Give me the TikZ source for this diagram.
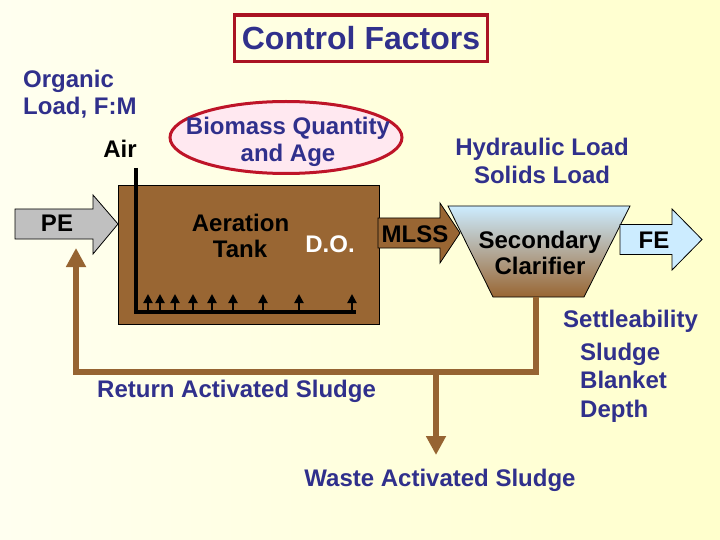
\documentclass[tikz,border=0pt]{standalone}
\usepackage{fontspec}
\setmainfont{Liberation Sans}
\usetikzlibrary{arrows.meta,shapes.geometric}
\definecolor{navy}{RGB}{48,48,140}
\definecolor{brownfill}{RGB}{153,102,51}
\definecolor{pipebrown}{RGB}{150,100,50}
\definecolor{darkred}{RGB}{170,20,35}
\definecolor{ellred}{RGB}{190,20,40}
\definecolor{pinkfill}{RGB}{255,232,240}
\definecolor{ltblue}{RGB}{204,236,255}
\definecolor{midblue}{RGB}{196,212,224}
\definecolor{pegray}{RGB}{192,192,192}
\definecolor{bgl}{RGB}{255,255,240}
\definecolor{bgr}{RGB}{255,255,204}
\begin{document}
\begin{tikzpicture}[x=1pt,y=-1pt,
  lbl/.style={font=\fontsize{24}{28}\selectfont\bfseries, inner sep=0pt, text=navy},
  blk/.style={font=\fontsize{24}{28}\selectfont\bfseries, inner sep=0pt, text=black},
  pipe/.style={draw=pipebrown, line width=5.5pt, line join=miter},
  bigtip/.style={-{Triangle[width=19pt,length=19pt]}},
  airline/.style={draw=black, line width=4.5pt, line join=miter},
  bubble/.style={draw=black, line width=2pt, -{Triangle[width=9pt,length=9pt]}},
  shapeedge/.style={draw=black, line width=0.8pt, line join=miter},
]
\useasboundingbox (0,0) rectangle (720,540);
\shade[left color=bgl, right color=bgr] (0,0) rectangle (720,540);

% title box
\node[draw=darkred, line width=3.5pt, minimum width=253pt, minimum height=46.7pt,
      inner sep=0pt, font=\fontsize{32}{36}\selectfont\bfseries, text=navy]
      (cf) at (361,38.3) {Control Factors};

% ellipse
\node[ellipse, draw=ellred, line width=3pt, fill=pinkfill, minimum width=232pt,
      minimum height=72pt, inner sep=0pt] (bio) at (286,137.5) {};

% aeration tank
\node[shapeedge, fill=brownfill, minimum width=261pt, minimum height=139pt,
      inner sep=0pt] (tank) at (248.5,254.5) {};

% air pipe and diffusers
\coordinate (airtop) at (136,168);
\coordinate (airend) at (356,312);
\draw[airline] (airtop) |- (airend);
\foreach \x in {148,160,175,193,212,233,263,299,352}
  \draw[bubble] (\x,310) -- (\x,294);

% PE arrow
\filldraw[shapeedge, fill=pegray] (15,209) -- (93,209) -- (93,195) -- (118,224)
  -- (93,254) -- (93,239) -- (15,239) -- cycle;
% MLSS arrow
\filldraw[shapeedge, fill=brownfill] (378,218) -- (440,218) -- (440,203) -- (460,233)
  -- (440,263) -- (440,248) -- (378,248) -- cycle;
% clarifier
\shade[top color=ltblue, middle color=midblue, bottom color=brownfill]
  (448,206) -- (630,206) -- (584,297) -- (493,297) -- cycle;
\draw[shapeedge] (448,206) -- (630,206) -- (584,297) -- (493,297) -- cycle;
% FE arrow
\filldraw[shapeedge, fill=ltblue] (620,224.5) -- (672,224.5) -- (672,209) -- (702,239.5)
  -- (672,270) -- (672,254.5) -- (620,254.5) -- cycle;

% sludge lines
\coordinate (clarbot) at (536,297);
\coordinate (rcorner) at (76,372);
\coordinate (retend) at (76,248);
\coordinate (wjunc) at (436,372);
\coordinate (wend) at (436,455);
\draw[pipe, bigtip] (clarbot) |- (rcorner) -- (retend);
\draw[pipe, bigtip] (wjunc) -- (wend);

% texts
\node[lbl, anchor=base west] (olf1) at (23,88) {Organic};
\node[lbl, anchor=base west] (olf2) at (23,115) {Load, F:M};
\node[blk, anchor=base] (air) at (120,158) {Air};
\node[lbl, anchor=base] (bio1) at (288,135) {Biomass Quantity};
\node[lbl, anchor=base] (bio2) at (288,162) {and Age};
\node[lbl, anchor=base] (hyd1) at (542,156) {Hydraulic Load};
\node[lbl, anchor=base] (hyd2) at (542,184) {Solids Load};
\node[blk, anchor=base] (aer1) at (240.5,232) {Aeration};
\node[blk, anchor=base] (aer2) at (240,258) {Tank};
\node[blk, anchor=base, text=white] (do) at (330,252) {D.O.};
\node[blk, anchor=base] (pe) at (57,232) {PE};
\node[blk, anchor=base] (mlss) at (415,242) {MLSS};
\node[blk, anchor=base] (sec1) at (540,248) {Secondary};
\node[blk, anchor=base] (sec2) at (540,274) {Clarifier};
\node[blk, anchor=base] (fe) at (654,248) {FE};
\node[lbl, anchor=base west] (set1) at (563,327) {Settleability};
\node[lbl, anchor=base west] (set2) at (580,360) {Sludge};
\node[lbl, anchor=base west] (set3) at (580,388) {Blanket};
\node[lbl, anchor=base west] (set4) at (580,417) {Depth};
\node[lbl, anchor=base west] (ras) at (97,397) {Return Activated Sludge};
\node[lbl, anchor=base] (was) at (440,486) {Waste Activated Sludge};
\end{tikzpicture}
\end{document}
